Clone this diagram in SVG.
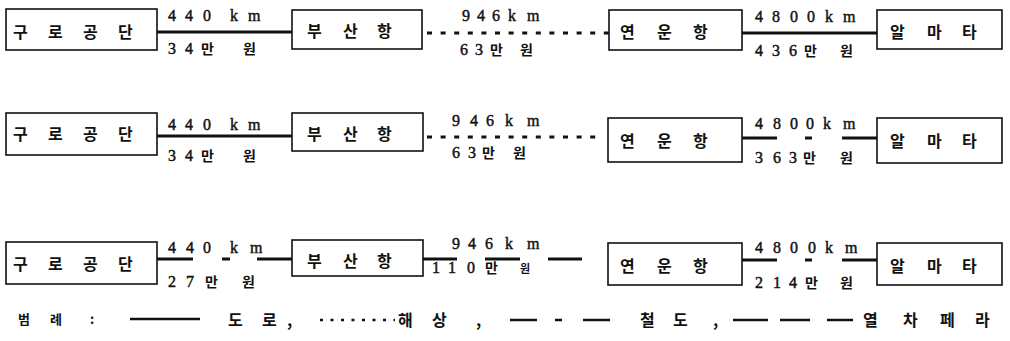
<svg xmlns="http://www.w3.org/2000/svg" width="1010" height="341" viewBox="0 0 1010 341">
<style>
.box{fill:#fff;stroke:#111;stroke-width:1.6}
.kt{font-family:"Noto Sans CJK KR","Noto Sans",sans-serif;font-size:16px;font-weight:bold;fill:#111}
.kl{font-family:"Noto Sans CJK KR","Noto Sans",sans-serif;font-size:14px;font-weight:bold;fill:#111}
.kg{font-family:"Noto Sans CJK KR","Noto Sans",sans-serif;font-size:13px;font-weight:bold;fill:#111}
.num{font-family:"Liberation Serif",serif;font-size:16px;fill:#111;stroke:#111;stroke-width:0.45}
.road{stroke:#111;stroke-width:3.2;fill:none}
.leg{stroke:#111;stroke-width:2.6;fill:none}
.sea{stroke:#111;stroke-width:3;fill:none;stroke-dasharray:5 8.6}
.seal{stroke:#111;stroke-width:2.6;fill:none;stroke-dasharray:3 7.5}
</style>
<rect width="1010" height="341" fill="#fff"/>
<g id="connectors">
<line class="road" x1="157" y1="32" x2="292" y2="32"/>
<line class="sea" x1="427" y1="33" x2="609" y2="33"/>
<line class="sea" x1="611" y1="33" x2="616" y2="33"/>
<line class="road" x1="742" y1="33" x2="877" y2="33"/>
<line class="road" x1="157" y1="136" x2="292" y2="136"/>
<line class="sea" x1="427" y1="137" x2="600" y2="137"/>
<path class="road" d="M742 138H777M805 138H812M842 138H877"/>
<path class="road" d="M157 259H193M222 259H230M257 259H292"/>
<path class="road" d="M423 259H457M485 259H520M548 259H582"/>
<path class="road" d="M742 260H777M805 260H812M842 260H877"/>
</g>
<g id="labels">
<text class="num" x="168 185 203 230 248" y="21">440km</text>
<text class="num" x="168 185" y="54">34</text><text class="kl" x="201 243" y="54">만원</text>
<text class="num" x="462 477 492 508 527" y="21">946km</text>
<text class="num" x="460 475" y="55">63</text><text class="kl" x="490 520" y="55">만원</text>
<text class="num" x="755 772 790 807 825 843" y="22">4800km</text>
<text class="num" x="755 772 789" y="56">436</text><text class="kl" x="804 840" y="56">만원</text>

<text class="num" x="168 185 203 230 248" y="130">440km</text>
<text class="num" x="168 185" y="161">34</text><text class="kl" x="201 243" y="161">만원</text>
<text class="num" x="452 470 486 505 527" y="126">946km</text>
<text class="num" x="452 468" y="158">63</text><text class="kl" x="482 513" y="158">만원</text>
<text class="num" x="755 773 790 806 823 843" y="129">4800km</text>
<text class="num" x="755 773 789" y="163">363</text><text class="kl" x="803 840" y="163">만원</text>

<text class="num" x="168 186 203 230 250" y="253">440km</text>
<text class="num" x="168 186" y="287">27</text><text class="kl" x="205 242" y="287">만원</text>
<text class="num" x="452 468 485 505 527" y="249">946km</text>
<text class="num" x="432 448 467" y="273">110</text><text class="kl" x="485" y="273">만</text><text class="kl" x="520" y="273" style="font-size:11px">원</text>
<text class="num" x="755 773 790 808 825 845" y="253">4800km</text>
<text class="num" x="755 773 789" y="288">214</text><text class="kl" x="805 840" y="288">만원</text>
</g>
<g id="r1-guro"><rect class="box" x="6" y="9" width="151" height="41"/><text class="kt" x="13 48 83 118" y="38">구로공단</text></g>
<g id="r1-busan"><rect class="box" x="292" y="10" width="130" height="39"/><text class="kt" x="307 343 377" y="37">부산항</text></g>
<g id="r1-lianyungang"><rect class="box" x="609" y="10" width="133" height="40"/><text class="kt" x="620 657 693" y="38">연운항</text></g>
<g id="r1-almaty"><rect class="box" x="877" y="10" width="125" height="39"/><text class="kt" x="890 927 962" y="38">알마타</text></g>

<g id="r2-guro"><rect class="box" x="6" y="113" width="151" height="42"/><text class="kt" x="13 48 83 118" y="140">구로공단</text></g>
<g id="r2-busan"><rect class="box" x="292" y="113" width="131" height="38"/><text class="kt" x="307 343 377" y="140">부산항</text></g>
<g id="r2-lianyungang"><rect class="box" x="608" y="118" width="134" height="44"/><text class="kt" x="620 657 693" y="147">연운항</text></g>
<g id="r2-almaty"><rect class="box" x="877" y="118" width="125" height="45"/><text class="kt" x="890 927 962" y="147">알마타</text></g>

<g id="r3-guro"><rect class="box" x="6" y="242" width="151" height="42"/><text class="kt" x="13 48 83 118" y="270">구로공단</text></g>
<g id="r3-busan"><rect class="box" x="292" y="240" width="131" height="36"/><text class="kt" x="307 343 377" y="267">부산항</text></g>
<g id="r3-lianyungang"><rect class="box" x="608" y="243" width="134" height="42"/><text class="kt" x="620 657 693" y="272">연운항</text></g>
<g id="r3-almaty"><rect class="box" x="877" y="243" width="125" height="42"/><text class="kt" x="890 927 962" y="272">알마타</text></g>

<g id="legend">
<text class="kg" x="18 50 90" y="324">범례:</text>
<line class="leg" x1="130" y1="319" x2="200" y2="319"/>
<text class="kt" x="228 262 287" y="326">도로,</text>
<line class="seal" x1="320" y1="320" x2="395" y2="320"/>
<text class="kt" x="398 432 476" y="326">해상,</text>
<path class="leg" d="M510 320H537M555 320H562M583 320H610"/>
<text class="kt" x="640 673 713" y="326">철도,</text>
<path class="leg" d="M733 320H768M780 320H810M827 320H853"/>
<text class="kt" x="863 903 940 975" y="326">열차페라</text>
</g>
</svg>
